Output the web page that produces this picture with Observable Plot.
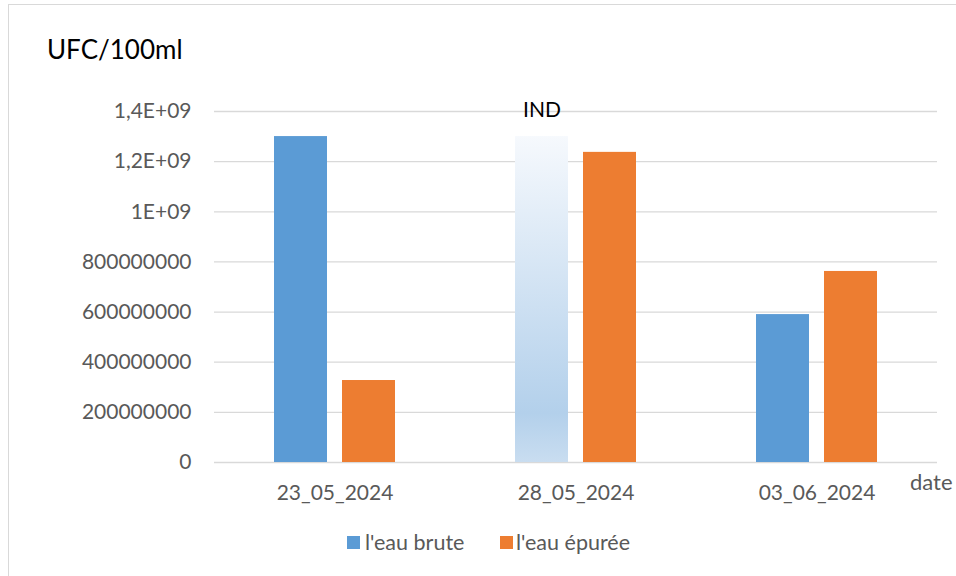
<!DOCTYPE html>
<html><head><meta charset="utf-8">
<script src="https://cdn.jsdelivr.net/npm/d3@7"></script>
<script src="https://cdn.jsdelivr.net/npm/@observablehq/plot@0.6"></script>
<style>
body{margin:0;background:#fff;overflow:hidden;font-family:Lato,sans-serif;}
#wrap{position:relative;width:956px;height:576px;overflow:hidden;}
#frame{position:absolute;left:8px;top:4px;width:1100px;height:1100px;border:1px solid #d9d9d9;}
#title{position:absolute;left:47px;top:36px;font-size:26px;line-height:26px;color:#000;white-space:nowrap;}
#chart{position:absolute;left:0;top:80px;}
#date{position:absolute;left:910px;top:471px;font-size:22px;line-height:22px;color:#595959;}
.lg{position:absolute;top:532px;font-size:21.5px;line-height:21.5px;color:#595959;white-space:nowrap;}
.sw{position:absolute;top:536px;width:13px;height:13px;}
</style></head>
<body>
<svg width="0" height="0" style="position:absolute">
  <defs>
    <linearGradient id="indGrad" x1="0" y1="0" x2="0" y2="1">
      <stop offset="0" stop-color="#f6f9fd"/>
      <stop offset="0.85" stop-color="#b3d0eb"/>
      <stop offset="1" stop-color="#c9ddf0"/>
    </linearGradient>
  </defs>
</svg>
<div id="wrap">
  <div id="frame"></div>
  <div id="title">UFC/100ml</div>
  <div id="chart"></div>
  <div id="date">date</div>
  <div class="sw" style="left:347px;background:#5b9bd5"></div>
  <div class="lg" style="left:365px">l'eau brute</div>
  <div class="sw" style="left:500px;background:#ed7d31"></div>
  <div class="lg" style="left:516px">l'eau épurée</div>
</div>
<script>
const dates = ["23_05_2024", "28_05_2024", "03_06_2024"];
const seriesNames = ["l'eau brute", "l'eau épurée"];
const seriesColors = ["#5b9bd5", "#ed7d31"];
const brute = [1.3e9, 1.3e9, 5.9e8];
const epuree = [3.27e8, 1.237e9, 7.62e8];
const bruteNote = ["", "IND", ""];
const yTicks = [0, 2e8, 4e8, 6e8, 8e8, 1e9, 1.2e9, 1.4e9];
const yTickLabels = ["0", "200000000", "400000000", "600000000", "800000000", "1E+09", "1,2E+09", "1,4E+09"];

const rows = dates.flatMap((d, i) => [
  {date: d, series: seriesNames[0], value: brute[i], note: bruteNote[i]},
  {date: d, series: seriesNames[1], value: epuree[i], note: ""}
]);

const chart = Plot.plot({
  width: 956,
  height: 440,
  marginTop: 31,
  marginBottom: 58,
  marginLeft: 213,
  marginRight: 18,
  style: {fontFamily: "Lato, sans-serif", fontSize: "21px", color: "#595959", background: "transparent"},
  fx: {domain: dates, padding: 0, label: null},
  x: {domain: seriesNames, paddingInner: 0.217, paddingOuter: 0.86, axis: null},
  y: {domain: [0, 1.4e9], axis: null},
  color: {domain: seriesNames, range: seriesColors},
  marks: [
    Plot.ruleY(yTicks, {stroke: "#d9d9d9", strokeWidth: 1.3}),
    Plot.axisY({ticks: yTicks, tickSize: 0, tickPadding: 23, tickFormat: v => yTickLabels[yTicks.indexOf(v)], label: null}),
    Plot.axisFx({anchor: "bottom", tickSize: 0, tickPadding: 23, label: null}),
    Plot.barY(rows.filter(r => r.note === ""), {fx: "date", x: "series", y: "value", fill: "series"}),
    Plot.barY(rows.filter(r => r.note !== ""), {fx: "date", x: "series", y: "value", fill: "url(#indGrad)"}),
    Plot.text(rows.filter(r => r.note !== ""), {fx: "date", x: "series", y: "value", text: "note", dy: -26, fill: "#000", fontSize: 21})
  ]
});
document.getElementById("chart").appendChild(chart);
</script>
</body></html>
